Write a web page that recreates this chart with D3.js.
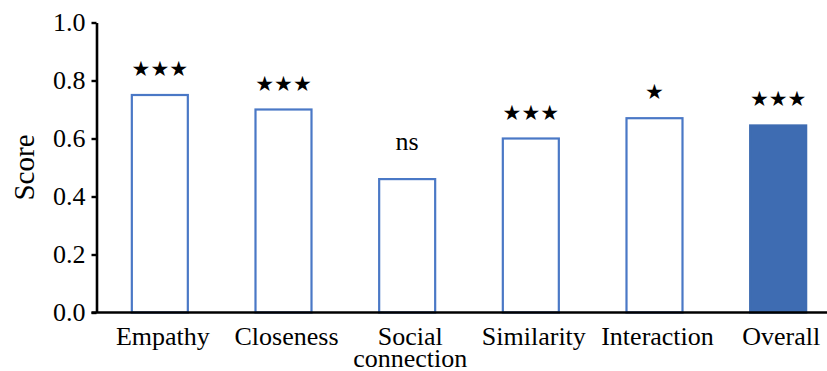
<!DOCTYPE html>
<html>
<head>
<meta charset="utf-8">
<script src="https://cdn.jsdelivr.net/npm/d3@7"></script>
<style>
  html, body { margin: 0; padding: 0; background: #fff; }
  svg { display: block; }
  text { font-family: "Liberation Serif", "Times New Roman", serif; fill: #000; }
</style>
</head>
<body>
<svg id="chart" width="827" height="371"></svg>
<script>
const categories = ["Empathy", "Closeness", "Social\nconnection", "Similarity", "Interaction", "Overall"];
const scores = [0.75, 0.70, 0.46, 0.60, 0.67, 0.645];
const significance = ["★★★", "★★★", "ns", "★★★", "★", "★★★"];
const filled = [false, false, false, false, false, true];
const yTicks = [0, 0.2, 0.4, 0.6, 0.8, 1.0];
const yLabel = "Score";

const W = 827, H = 371;
const svg = d3.select("#chart");

const y = d3.scaleLinear().domain([0, 1]).range([312.5, 22.5]);
const x = d3.scaleBand().domain(categories).range([98, 840]).paddingInner(0.531).paddingOuter(0.2655);

// Bars
svg.append("g").selectAll("rect").data(categories).join("rect")
  .attr("x", d => x(d) + 1)
  .attr("y", (d, i) => y(scores[i]))
  .attr("width", x.bandwidth() - 2)
  .attr("height", (d, i) => y(0) - y(scores[i]))
  .attr("fill", (d, i) => filled[i] ? "#3e6cb2" : "#fff")
  .attr("stroke", (d, i) => filled[i] ? "#3e6cb2" : "#4a78c6")
  .attr("stroke-width", 2.2);

// Y axis
const yAxis = svg.append("g").attr("transform", "translate(96.5,0)")
  .call(d3.axisLeft(y).tickValues(yTicks).tickFormat(d3.format(".1f")).tickSize(5).tickSizeOuter(0).tickPadding(6));
yAxis.select(".domain").attr("stroke", "#000").attr("stroke-width", 2.6);
yAxis.selectAll(".tick line").attr("stroke", "#000").attr("stroke-width", 2.4);
yAxis.selectAll(".tick text")
  .style("font-family", '"Liberation Serif", serif').style("font-size", "26px")
  .attr("fill", "#000")
  .attr("x", -11);

// X axis line
svg.append("line")
  .attr("x1", 91.5).attr("x2", W)
  .attr("y1", y(0)).attr("y2", y(0))
  .attr("stroke", "#000").attr("stroke-width", 2.6);

// Category labels
const xl = svg.append("g").selectAll("text").data(categories).join("text")
  .attr("text-anchor", "middle")
  .attr("transform", d => `translate(${x(d) + x.bandwidth() / 2 + 3},345)`)
  .style("font-size", "26px");
xl.each(function(d) {
  const lines = d.split("\n");
  d3.select(this).selectAll("tspan").data(lines).join("tspan")
    .attr("x", 0).attr("dy", (l, j) => j === 0 ? 0 : 22).text(l => l);
});

// Significance labels
svg.append("g").selectAll("text").data(categories).join("text")
  .attr("text-anchor", "middle")
  .attr("transform", (d, i) => {
    const cx = x(d) + x.bandwidth() / 2;
    const yy = significance[i] === "ns" ? y(scores[i]) - 29 : y(scores[i]) - 19;
    return `translate(${cx},${yy})`;
  })
  .style("font-family", (d, i) => significance[i] === "ns" ? '"Liberation Serif", serif' : '"DejaVu Sans", sans-serif')
  .style("font-size", (d, i) => significance[i] === "ns" ? "26px" : "21px")
  .text((d, i) => significance[i]);

// Y label
svg.append("text")
  .attr("text-anchor", "middle")
  .attr("transform", `translate(34,${y(0.5)}) rotate(-90)`)
  .style("font-size", "29px")
  .text(yLabel);
</script>
</body>
</html>
